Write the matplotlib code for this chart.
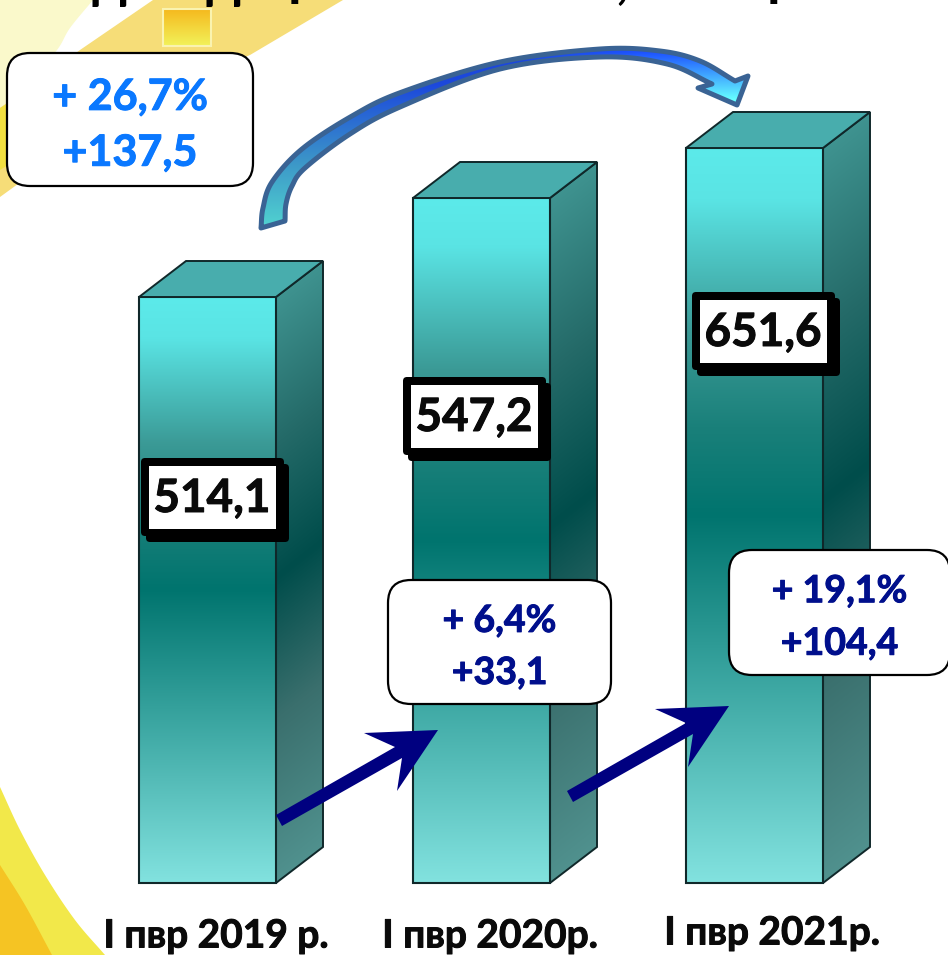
import numpy as np
import matplotlib
matplotlib.use("Agg")
import matplotlib.pyplot as plt
import matplotlib.patheffects as pe
from matplotlib.patches import Polygon, FancyBboxPatch, Rectangle
from matplotlib.colors import to_rgb

plt.rcParams['font.family'] = ['Lato', 'DejaVu Sans']

# ---- data ----
categories = ['I пвр 2019 р.', 'I пвр 2020р.', 'I пвр 2021р.']
values = ['514,1', '547,2', '651,6']
drawn_heights = [586, 685, 735]      # the pictured columns are not to scale
change_pct = ['+ 6,4%', '+ 19,1%']
change_abs = ['+33,1', '+104,4']
total_pct = '+ 26,7%'
total_abs = '+137,5'

W, H = 948, 955
fig = plt.figure(figsize=(W / 100, H / 100), dpi=100)
ax = fig.add_axes([0, 0, 1, 1])
ax.axis('off')


def Y(py):
    return H - py


def P(pts):
    return [(x, Y(y)) for x, y in pts]


def ramp(t, stops):
    t = np.clip(t, 0, 1)
    pos = [s[0] for s in stops]
    cols = np.array([to_rgb(s[1]) for s in stops])
    return np.stack([np.interp(t, pos, cols[:, i]) for i in range(3)], axis=-1)


def paint(img, x0, x1, py0, py1, clip, z):
    im = ax.imshow(img, extent=(x0, x1, Y(py1), Y(py0)), origin='upper',
                   aspect='auto', interpolation='bilinear', zorder=z)
    im.set_clip_path(clip)


def smooth(pts, n=14):
    """Catmull-Rom line through the given pixel points."""
    p = np.array(pts, float)
    p = np.vstack([2 * p[0] - p[1], p, 2 * p[-1] - p[-2]])
    out = []
    for i in range(1, len(p) - 2):
        t = np.linspace(0, 1, n, endpoint=False)[:, None]
        out.append(0.5 * (2 * p[i] + (p[i + 1] - p[i - 1]) * t
                          + (2 * p[i - 1] - 5 * p[i] + 4 * p[i + 1] - p[i + 2]) * t ** 2
                          + (3 * p[i] - p[i - 1] - 3 * p[i + 1] + p[i + 2]) * t ** 3))
    out.append(p[-2:-1])
    return [tuple(v) for v in np.vstack(out)]


def bold_text(x, py, s, fs, color, z, thick=0.7, **kw):
    t = ax.text(x, Y(py), s, fontsize=fs, fontweight='bold', color=color,
                ha='center', va='center', zorder=z, **kw)
    t.set_path_effects([pe.withStroke(linewidth=thick, foreground=color)])
    return t


# ---- background swooshes ----
ax.add_patch(Polygon(P([(0, 0)] + smooth([(93, 0), (70, 28), (57, 50), (30, 80), (0, 112)])),
                     fc='#faf9cb', ec='none', zorder=1))
ax.add_patch(Polygon(P([(153, 0), (343, 0), (250, 55), (120, 110), (0, 197), (0, 108), (80, 50)]),
                     fc='#f6dd78', ec='none', zorder=1))
ax.add_patch(Polygon(P([(0, 108), (8, 103), (8, 165), (0, 170)]), fc='#f2e040', ec='none', zorder=1))
ax.add_patch(Polygon(P(smooth([(0, 787), (20, 830), (45, 875), (75, 920), (105, 955)]) + [(0, 955)]),
                     fc='#f2e84a', ec='none', zorder=1))
ax.add_patch(Polygon(P(smooth([(0, 865), (25, 905), (52, 955)]) + [(0, 955)]),
                     fc='#f5c423', ec='none', zorder=1))
square = Rectangle((163, Y(46)), 48, 37, fc='none', ec='#faf3b0', lw=1.5, zorder=3)
ax.add_patch(square)
yy = np.linspace(0, 1, 64)[:, None]
paint(ramp(yy, [(0, '#f5b91e'), (1, '#f2f25a')]), 163, 211, 9, 46, square, 2)

# ---- columns ----
lefts = [139, 413, 686]
width = 137
depth_x, depth_y = 47, 36
base = Y(883)
front_stops = [(0, '#5ceaea'), (0.07, '#5ae4e4'), (0.25, '#3b9a96'), (0.38, '#1a807a'),
               (0.5, '#00746e'), (1, '#82e2df')]
side_stops = [(0, '#3f9390'), (0.25, '#246a68'), (0.48, '#004d4b'), (0.72, '#3a6f6d'), (1, '#50918e')]

bars = ax.bar(lefts, drawn_heights, width=width, bottom=base, align='edge',
              facecolor='none', edgecolor='#10282a', linewidth=1.5, zorder=6)
for left, h, bar in zip(lefts, drawn_heights, bars):
    top = 883 - h
    img = ramp(np.linspace(0, 1, 256)[:, None], front_stops)
    paint(img, left, left + width, top, 883, bar, 5)
    rx = left + width
    side = Polygon(P([(rx, top), (rx + depth_x, top - depth_y),
                      (rx + depth_x, 883 - depth_y), (rx, 883)]),
                   fc='none', ec='#10282a', lw=1.4, zorder=6)
    ax.add_patch(side)
    ys, xs = np.mgrid[0:1:300j, 0:1:40j]
    py = top - depth_y + ys * (h + depth_y)
    t = (py + xs * depth_y - top) / h
    paint(ramp(t, side_stops), rx, rx + depth_x, top - depth_y, 883, side, 5)
    ax.add_patch(Polygon(P([(left, top), (rx, top), (rx + depth_x, top - depth_y),
                            (left + depth_x, top - depth_y)]),
                         fc='#48adad', ec='#10282a', lw=1.4, zorder=6))

# ---- value boxes ----
value_boxes = [(141, 458), (403, 377), (692, 292)]
for (bx, by), val in zip(value_boxes, values):
    for off in (6, 0):
        ax.add_patch(FancyBboxPatch((bx + off - (1 if off else 0), Y(by + off + 78)), 143, 78,
                                    boxstyle='round,pad=0,rounding_size=4',
                                    fc='black', ec='none', zorder=8))
    ax.add_patch(Rectangle((bx + 8, Y(by + 71)), 127, 63, fc='white', ec='none', zorder=9))
    bold_text(bx + 71, by + 41, val, 33, '#0a0a0a', 10)

# ---- straight arrows ----
navy = '#000080'
arrow2 = [(567, 791), (686, 723), (655, 709), (729, 706), (688, 767), (693, 734), (573, 802)]
ax.add_patch(Polygon(P([(x - 291, y + 24) for x, y in arrow2]), fc=navy, ec='none', zorder=7))
ax.add_patch(Polygon(P(arrow2), fc=navy, ec='none', zorder=7))

# ---- curved arrow ----
outer = smooth([(261, 228), (263, 208), (272, 182), (302, 149), (352, 116), (402, 92),
                (500, 62), (600, 49), (660, 51), (700, 61), (735, 81)])
inner = smooth([(712, 84), (667, 64), (600, 57), (500, 69), (400, 107), (350, 134),
                (305, 168), (292, 186), (286, 204), (285, 221)])
arc = Polygon(P(outer + [(748, 76), (737, 105), (698, 88)] + inner), closed=True,
              fc='none', ec='#3a6394', lw=3.6, joinstyle='round', zorder=5)
ax.add_patch(arc)
ys, xs = np.mgrid[40:232:200j, 255:755:260j]
left_part = ramp((ys - 85) / 140, [(0, '#1c48dc'), (0.55, '#3c96c8'), (1, '#50d0d0')])
right_part = ramp((ys - 52) / 48, [(0, '#1c50ff'), (1, '#66ffff')])
mix = np.clip((xs - 520) / 120, 0, 1)[..., None]
paint(left_part * (1 - mix) + right_part * mix, 255, 755, 40, 232, arc, 4)


# ---- rounded change boxes ----
def change_box(x0, y0, x1, y1, line1, line2, color, fs, z=11):
    ax.add_patch(FancyBboxPatch((x0, Y(y1)), x1 - x0, y1 - y0,
                                boxstyle='round,pad=0,rounding_size=23',
                                fc='white', ec='black', lw=1.6, zorder=z))
    cx = (x0 + x1) / 2
    bold_text(cx, y0 + (y1 - y0) * 0.33, line1, fs, color, z + 1)
    bold_text(cx, y0 + (y1 - y0) * 0.75, line2, fs, color, z + 1)


change_box(7, 53, 253, 186, total_pct, total_abs, '#0a78ff', 31)
change_box(388, 580, 611, 704, change_pct[0], change_abs[0], '#000f8c', 27)
change_box(729, 550, 950, 675, change_pct[1], change_abs[1], '#000f8c', 27)

# ---- category labels ----
for cx, py, cat in zip([216, 490, 772], [936, 936, 933], categories):
    bold_text(cx, py, cat, 28, '#0a0a0a', 10)

# ---- title, cut off by the top edge of the picture ----
for cx, base_py, ch in zip([109, 223.5, 303, 622, 782], [-2, -2, -5, -3, -5], ['д', 'д', 'р', ',', 'р']):
    ax.text(cx, Y(base_py), ch, fontsize=40, fontweight='bold', color='black',
            ha='center', va='baseline', zorder=10)

ax.set_xlim(0, W)
ax.set_ylim(0, H)
fig.savefig('out.png', dpi=100, facecolor='white')
